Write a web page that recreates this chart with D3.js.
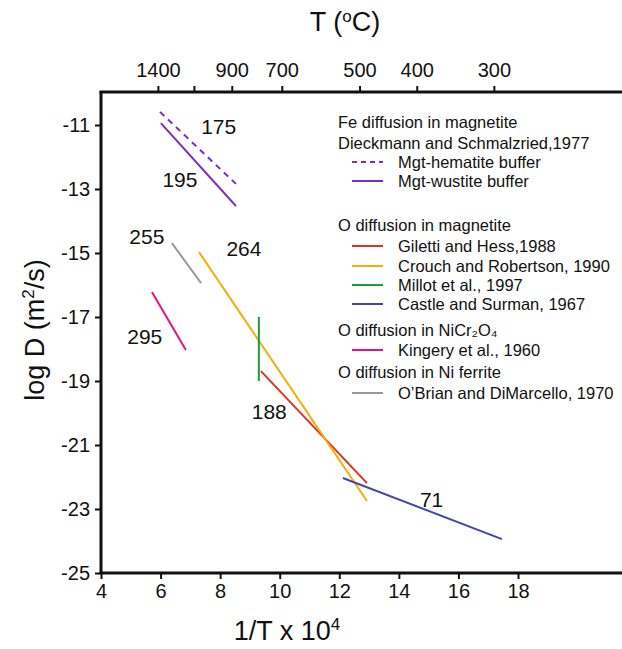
<!DOCTYPE html>
<html lang="en">
<head>
    <meta charset="UTF-8">
    <title>Diffusion in spinels - Arrhenius plot</title>
    <style>
        body { margin: 0; background: #fff; }
        text { font-family: Arial, "Liberation Sans", sans-serif; fill: #111; }
    </style>
</head>
<body>
    <script src="https://d3js.org/d3.v7.min.js"></script>
    <script>
        // tick values
        let xTicks = [4, 6, 8, 10, 12, 14, 16, 18];
        let yTicks = [-11, -13, -15, -17, -19, -21, -23, -25];
        // top axis: temperature labels and where they sit on the 1/T scale
        let topLabels = ["1400", "", "900", "700", "500", "400", "300"];
        let topPos = [5.91, 7.12, 8.39, 10.07, 12.68, 14.6, 17.19];

        // series: [x1, y1, x2, y2] in 1/T x 10^4 and log D
        let names = ["hematite", "wustite", "giletti", "crouch", "millot", "castle", "kingery", "obrian"];
        let starts = [[5.98, -10.59], [6.01, -10.94], [9.37, -18.69], [7.29, -14.97], [9.30, -17.0], [12.12, -22.03], [5.71, -16.22], [6.38, -14.69]];
        let ends = [[8.53, -12.84], [8.53, -13.53], [12.93, -22.19], [12.93, -22.75], [9.30, -19.0], [17.46, -23.94], [6.85, -18.03], [7.36, -15.94]];
        let colors = ["#7b2fbe", "#7b2fbe", "#e2321f", "#f8ab00", "#1e9b3c", "#4149a8", "#e5137f", "#999999"];

        // activation energy labels
        let ea = ["175", "195", "188", "264", "71", "295", "255"];
        let eaPos = [[7.95, -11.05], [6.65, -12.7], [9.65, -19.95], [8.8, -14.85], [15.1, -22.7], [5.47, -17.6], [5.54, -14.5]];

        // legend
        let legendRows = [
            { t: "Fe diffusion in magnetite", head: true },
            { t: "Dieckmann and Schmalzried,1977", head: true },
            { t: "Mgt-hematite buffer", s: 0 },
            { t: "Mgt-wustite buffer", s: 1 },
            { t: "O diffusion in magnetite", head: true },
            { t: "Giletti and Hess,1988", s: 2 },
            { t: "Crouch and Robertson, 1990", s: 3 },
            { t: "Millot et al., 1997", s: 4 },
            { t: "Castle and Surman, 1967", s: 5 },
            { t: "O diffusion in NiCr\u2082O\u2084", head: true },
            { t: "Kingery et al., 1960", s: 6 },
            { t: "O diffusion in Ni ferrite", head: true },
            { t: "O\u2019Brian and DiMarcello, 1970", s: 7 }
        ];
        let legendY = [122, 143, 162, 181, 225, 246, 266, 285, 304, 330, 350, 372, 393];

        let width = 622, height = 649;
        let svg = d3.select("body").append("svg")
            .attr("width", width)
            .attr("height", height);

        let x = d3.scaleLinear().domain([4, 18]).range([101, 518]);
        let y = d3.scaleLinear().domain([-25, -10]).range([573, 93]);

        // axes
        let yAxis = svg.append("g")
            .attr("transform", "translate(101,0)")
            .call(d3.axisLeft(y).tickValues(yTicks).tickSize(6)
                .tickFormat(function(d){ return String(d); }));
        let xAxis = svg.append("g")
            .attr("transform", "translate(0,573)")
            .call(d3.axisBottom(x).tickValues(xTicks).tickSize(6).tickPadding(5));
        let tAxis = svg.append("g")
            .attr("transform", "translate(0,92)")
            .call(d3.axisTop(x).tickValues(topPos).tickSize(6).tickPadding(9)
                .tickFormat(function(d, i){ return topLabels[i]; }));

        [xAxis, yAxis, tAxis].forEach(function(a){
            a.select(".domain").remove();
            a.selectAll(".tick line").attr("stroke", "#111").attr("stroke-width", 2);
            a.selectAll(".tick text").style("font-size", "20px").attr("fill", "#111");
        });
        yAxis.selectAll(".tick text").attr("x", -11);

        // frame lines (left, bottom, top)
        svg.append("line").attr("x1", 101).attr("x2", 101).attr("y1", 91).attr("y2", 574)
            .attr("stroke", "#111").attr("stroke-width", 3);
        svg.append("line").attr("x1", 99.5).attr("x2", width).attr("y1", 573).attr("y2", 573)
            .attr("stroke", "#111").attr("stroke-width", 3);
        svg.append("line").attr("x1", 99.5).attr("x2", width).attr("y1", 92).attr("y2", 92)
            .attr("stroke", "#111").attr("stroke-width", 3);

        // axis titles
        let yt = svg.append("text")
            .attr("transform", "translate(44,330) rotate(-90)")
            .attr("text-anchor", "middle")
            .style("font-size", "27px");
        yt.append("tspan").text("log D (m");
        yt.append("tspan").attr("dy", -10).style("font-size", "17px").text("2");
        yt.append("tspan").attr("dy", 10).text("/s)");

        let xt = svg.append("text")
            .attr("x", 287).attr("y", 640)
            .attr("text-anchor", "middle")
            .style("font-size", "27px");
        xt.append("tspan").text("1/T x 10");
        xt.append("tspan").attr("dy", -10).style("font-size", "17px").text("4");

        let tt = svg.append("text")
            .attr("x", 345).attr("y", 31)
            .attr("text-anchor", "middle")
            .style("font-size", "27px");
        tt.append("tspan").text("T (");
        tt.append("tspan").attr("dy", -9).style("font-size", "17px").text("o");
        tt.append("tspan").attr("dy", 9).text("C)");

        // data lines
        svg.selectAll("line.series").data(names).enter().append("line")
            .attr("class", "series")
            .attr("x1", function(d, i){ return x(starts[i][0]); })
            .attr("y1", function(d, i){ return y(starts[i][1]); })
            .attr("x2", function(d, i){ return x(ends[i][0]); })
            .attr("y2", function(d, i){ return y(ends[i][1]); })
            .attr("stroke", function(d, i){ return colors[i]; })
            .attr("stroke-width", 2)
            .attr("stroke-dasharray", function(d){ return d === "hematite" ? "6,5" : null; });

        // activation energies
        svg.selectAll("text.ea").data(ea).enter().append("text")
            .attr("class", "ea")
            .attr("x", function(d, i){ return x(eaPos[i][0]); })
            .attr("y", function(d, i){ return y(eaPos[i][1]); })
            .attr("text-anchor", "middle")
            .attr("dy", "0.35em")
            .style("font-size", "21px")
            .text(function(d){ return d; });

        // legend
        let leg = svg.append("g");
        leg.selectAll("text").data(legendRows).enter().append("text")
            .attr("x", function(d){ return d.head ? 338 : 398; })
            .attr("y", function(d, i){ return legendY[i]; })
            .attr("dy", "0.35em")
            .style("font-size", "16.5px")
            .text(function(d){ return d.t; });
        leg.selectAll("line").data(legendRows.filter(function(d){ return !d.head; })).enter().append("line")
            .attr("x1", 352).attr("x2", 383)
            .attr("y1", function(d){ return legendY[legendRows.indexOf(d)]; })
            .attr("y2", function(d){ return legendY[legendRows.indexOf(d)]; })
            .attr("stroke", function(d){ return colors[d.s]; })
            .attr("stroke-width", 2)
            .attr("stroke-dasharray", function(d){ return d.s === 0 ? "5,4" : null; });
    </script>
</body>
</html>
